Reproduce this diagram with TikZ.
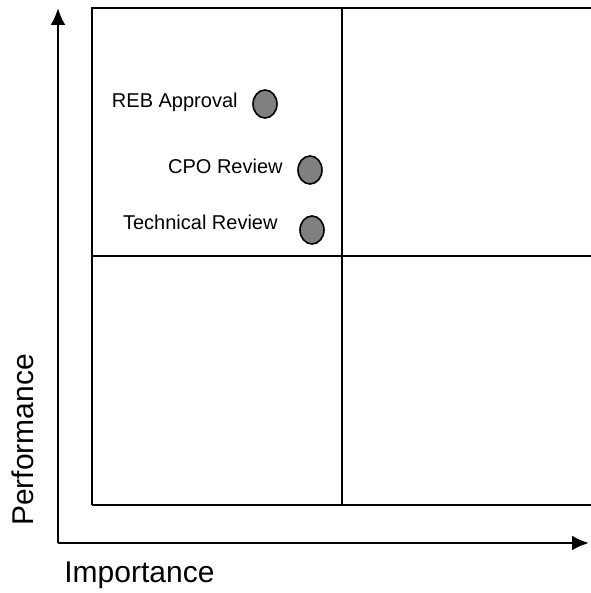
\documentclass[tikz,border=0pt]{standalone}
\usepackage{fontspec}
\setmainfont{Liberation Sans}
\usepackage{tikz}
\usetikzlibrary{arrows.meta,shapes.geometric}

\definecolor{dotgray}{RGB}{128,128,128}

\tikzset{
    axis/.style={line width=1.3pt, -{Latex[length=8.5pt,width=7.5pt]}},
    grid line/.style={line width=1pt},
    item/.style={ellipse, draw=black, line width=0.8pt, fill=dotgray,
        minimum width=12pt, minimum height=14pt, inner sep=0pt},
    itemlabel/.style={anchor=east, font=\fontsize{10}{12}\selectfont, inner sep=0pt},
    axislabel/.style={font=\fontsize{15}{18}\selectfont, inner sep=0pt}
}

\begin{document}
\begin{tikzpicture}[x=0.5pt, y=-0.5pt]
        \useasboundingbox (0,0) rectangle (590,593);

        \coordinate (origin) at (58,543);
        \coordinate (ytip) at (58,8);
        \coordinate (xtip) at (589,543);

        \draw[axis] (origin) -- (ytip);
        \draw[axis] (origin) -- (xtip);

        % Quadrants
        \draw[grid line] (92,505) -- (92,8) -- (592,8);
        \draw[grid line] (92,505) -- (592,505);
        \draw[grid line] (342,8) -- (342,505);
        \draw[grid line] (92,256) -- (592,256);

        \node[item] (reb) at (265,104) {};
        \node[item] (cpo) at (310,170) {};
        \node[item] (tech) at (312,230) {};

        \node[itemlabel] (reblabel) at (238,102) {REB Approval};
        \node[itemlabel] (cpolabel) at (283,166) {CPO Review};
        \node[itemlabel] (techlabel) at (278,222) {Technical Review};

        \node[axislabel, rotate=90] (perf) at (23,440) {Performance};
        \node[axislabel, anchor=west] (imp) at (64,575) {Importance};
\end{tikzpicture}
\end{document}
